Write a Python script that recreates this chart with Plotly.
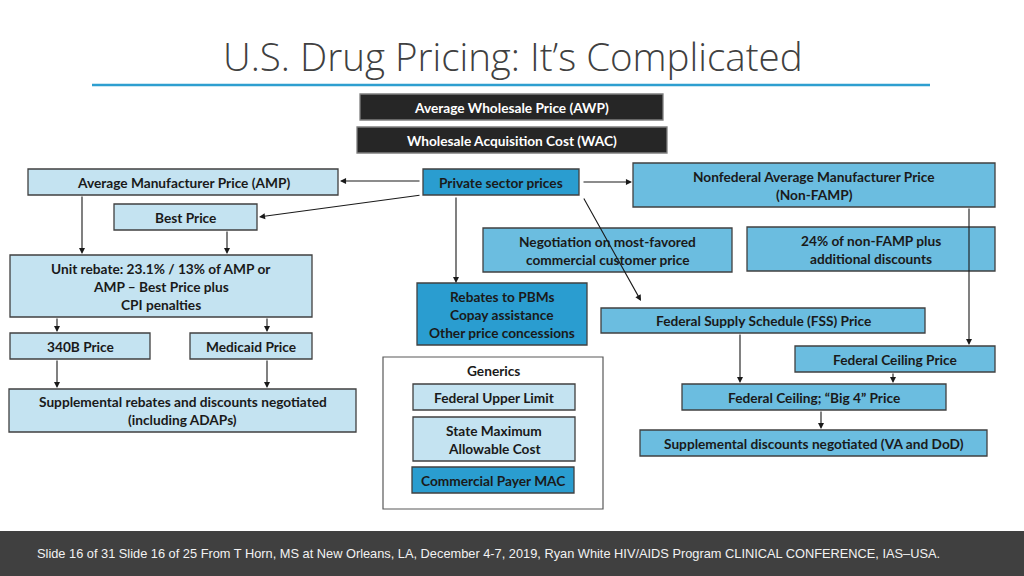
import plotly.graph_objects as go

TITLE = "U.S. Drug Pricing: It’s Complicated"
FOOTER = ("Slide 16 of 31 Slide 16 of 25 From T Horn, MS at New Orleans, LA, December 4-7, 2019, "
          "Ryan White HIV/AIDS Program CLINICAL CONFERENCE, IAS–USA.")

# box labels (one entry per line)
box_names = ["awp", "wac", "amp", "best", "unit", "b340", "medicaid", "supp_reb",
             "private", "nonfamp", "nego", "pct24", "pbm", "fss", "fcp",
             "ful", "smac", "cmac", "big4", "supp_disc"]
box_labels = [
    ["Average Wholesale Price (AWP)"],
    ["Wholesale Acquisition Cost (WAC)"],
    ["Average Manufacturer Price (AMP)"],
    ["Best Price"],
    ["Unit rebate: 23.1% / 13% of AMP or", "AMP – Best Price plus", "CPI penalties"],
    ["340B Price"],
    ["Medicaid Price"],
    ["Supplemental rebates and discounts negotiated", "(including ADAPs)"],
    ["Private sector prices"],
    ["Nonfederal Average Manufacturer Price", "(Non-FAMP)"],
    ["Negotiation on most-favored", "commercial customer price"],
    ["24% of non-FAMP plus", "additional discounts"],
    ["Rebates to PBMs", "Copay assistance", "Other price concessions"],
    ["Federal Supply Schedule (FSS) Price"],
    ["Federal Ceiling Price"],
    ["Federal Upper Limit"],
    ["State Maximum", "Allowable Cost"],
    ["Commercial Payer MAC"],
    ["Federal Ceiling; “Big 4” Price"],
    ["Supplemental discounts negotiated (VA and DoD)"],
]
box_tone = ["black", "black", "light", "light", "light", "light", "light", "light",
            "dark", "mid", "mid", "mid", "dark", "mid", "mid",
            "light", "light", "dark", "mid", "mid"]
generics_label = "Generics"

# layout geometry in page pixels (x0, y0, x1, y1)
geom = {
    "awp": (360, 94, 663, 120), "wac": (357, 127, 667, 153),
    "amp": (28, 169, 338, 195), "best": (114, 204, 257, 230),
    "unit": (10, 255, 312, 317), "b340": (10, 333, 150, 359),
    "medicaid": (190, 333, 312, 359), "supp_reb": (9, 389, 356, 432),
    "private": (423, 169, 579, 195), "nonfamp": (633, 163, 995, 207),
    "nego": (483, 228, 732, 272), "pct24": (747, 227, 995, 271),
    "pbm": (417, 283, 587, 345), "fss": (601, 308, 925, 333),
    "fcp": (795, 346, 995, 372), "ful": (413, 384, 575, 410),
    "smac": (413, 417, 575, 461), "cmac": (412, 467, 574, 493),
    "big4": (682, 384, 946, 410), "supp_disc": (640, 430, 987, 456),
}
arrows = [  # (x_from, y_from, x_to, y_to)
    (421, 181, 340, 181), (421, 195, 259, 217), (582, 182, 632, 182),
    (456, 196, 456, 283), (583, 197, 641, 301),
    (82, 195, 82, 254), (227, 230, 227, 254),
    (57, 317, 57, 332), (267, 317, 267, 332),
    (57, 359, 57, 388), (267, 359, 267, 388),
    (969, 207, 969, 345), (740, 333, 740, 383),
    (893, 372, 893, 383), (821, 410, 821, 429),
]

FILLS = {"black": "#262626", "light": "#c4e3f1", "mid": "#6bbde0", "dark": "#2a9dd0"}
TEXT_COL = {"black": "#ffffff", "light": "#1a1a1a", "mid": "#1a1a1a", "dark": "#1a1a1a"}
FONT = "Lato"
FSIZE = 13.7

shapes = []
annotations = []

# footer band
shapes.append(dict(type="rect", x0=0, y0=531, x1=1024, y1=576, fillcolor="#404040",
                   line=dict(width=0), layer="below"))
# title underline
shapes.append(dict(type="line", x0=92, y0=85, x1=930, y1=85, line=dict(color="#2e9fd0", width=2.5)))
# generics container
shapes.append(dict(type="rect", x0=383, y0=357, x1=603, y1=509, fillcolor="#ffffff",
                   line=dict(color="#595959", width=1.2)))
annotations.append(dict(x=493, y=370, text=f"<b>{generics_label}</b>", showarrow=False,
                        font=dict(family=FONT, size=FSIZE, color="#1a1a1a")))

for name, lines, tone in zip(box_names, box_labels, box_tone):
    x0, y0, x1, y1 = geom[name]
    shapes.append(dict(type="rect", x0=x0, y0=y0, x1=x1, y1=y1, fillcolor=FILLS[tone],
                       line=dict(color="#7f7f7f" if tone == "black" else "#404040", width=1.3)))
    cx = (x0 + x1) / 2
    cy = (y0 + y1) / 2
    step = 18
    start = cy - step * (len(lines) - 1) / 2
    for i, ln in enumerate(lines):
        annotations.append(dict(x=cx, y=start + i * step, text=f"<b>{ln}</b>", showarrow=False,
                                font=dict(family=FONT, size=FSIZE, color=TEXT_COL[tone])))

for xf, yf, xt, yt in arrows:
    annotations.append(dict(x=xt, y=yt, ax=xf, ay=yf, xref="x", yref="y", axref="x", ayref="y",
                            text="", showarrow=True, arrowhead=2, arrowsize=1.1, arrowwidth=1.1,
                            arrowcolor="#1a1a1a"))

annotations.append(dict(x=513, y=56, text=TITLE, showarrow=False,
                        font=dict(family="Open Sans", size=38.5, color="#404040", weight=300)))
annotations.append(dict(x=35, y=553, text=FOOTER, showarrow=False, xanchor="left",
                        font=dict(family="Liberation Sans", size=12.8, color="#f2f2f2")))

fig = go.Figure()
fig.update_layout(
    width=1024, height=576, margin=dict(l=0, r=0, t=0, b=0),
    paper_bgcolor="#ffffff", plot_bgcolor="#ffffff",
    xaxis=dict(range=[0, 1024], visible=False, fixedrange=True),
    yaxis=dict(range=[576, 0], visible=False, fixedrange=True),
    shapes=shapes, annotations=annotations, showlegend=False,
)
fig.write_html("out.html", config={"displayModeBar": False},
               post_script="document.body.style.margin='0';document.body.style.overflow='hidden';")
